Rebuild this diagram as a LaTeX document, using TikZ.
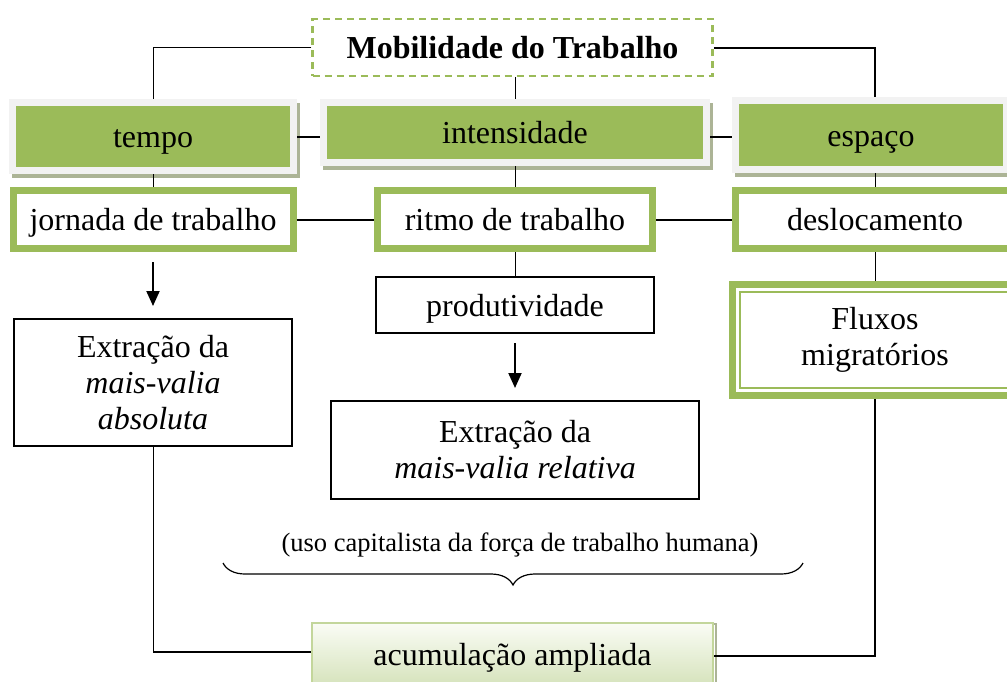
\documentclass[tikz,border=0pt]{standalone}
\usepackage{fontspec}
\setmainfont{Liberation Serif}
\usetikzlibrary{arrows.meta,positioning,calc,decorations.pathreplacing}
\definecolor{MobGreen}{RGB}{155,187,89}
\definecolor{MobFrame}{RGB}{242,242,242}
\definecolor{MobShadow}{RGB}{172,180,150}
\definecolor{MobLight}{RGB}{195,214,155}
\definecolor{MobPale}{RGB}{250,252,245}
\definecolor{MobFill}{RGB}{214,227,188}

\begin{document}
\begin{tikzpicture}[x=1pt, y=-1pt, font=\fontsize{32}{36}\selectfont]
  \tikzset{
    line1/.style={text height=27pt, text depth=5pt},
    title/.style={draw=MobGreen, line width=2.5pt, dash pattern=on 7pt off 5pt, inner sep=0pt, line1},
    cat/.style={fill=MobGreen, draw=MobFrame, line width=7pt, inner sep=0pt, line1,
      preaction={draw=MobShadow, fill=MobShadow, transform canvas={xshift=3pt, yshift=-4pt}}},
    sub/.style={draw=MobGreen, line width=7pt, fill=white, minimum height=58pt, inner sep=0pt, line1},
    b/.style={draw=black, line width=2pt, fill=white, align=center, inner sep=0pt},
    flux/.style={draw=MobGreen, line width=7pt, fill=white, align=center, inner sep=0pt},
    acc/.style={draw=MobLight, line width=2pt, top color=MobPale, bottom color=MobFill, inner sep=0pt, line1,
      preaction={draw=MobShadow, line width=2pt, transform canvas={xshift=3pt, yshift=-1pt}}},
    ln/.style={line width=2pt, draw=black},
    thinln/.style={line width=1pt, draw=black},
    arr/.style={-{Triangle[length=15pt,width=13pt]}, line width=2pt}
  }
  \useasboundingbox (0,0) rectangle (1007,681);
  \clip (0,0) rectangle (1007,681);

  \node[title, minimum width=400pt, minimum height=57pt] (mob) at (512.5,47.5) {\bfseries Mobilidade do Trabalho};

  \node[cat, minimum width=281pt, minimum height=68pt] (tempo) at (153,136.5) {tempo};
  \node[cat, minimum width=383pt, minimum height=60pt] (intens) at (515,132.5) {intensidade};
  \node[cat, minimum width=271pt, minimum height=69pt] (espaco) at (871,135) {espaço};

  \node[sub, minimum width=280pt] (jornada) at (153,219.5) {jornada de trabalho};
  \node[sub, minimum width=275pt] (ritmo) at (515,219.5) {ritmo de trabalho};
  \node[sub, minimum width=279pt] (desloc) at (875,219.5) {deslocamento};

  \node[b, minimum width=278pt, minimum height=127pt] (absol) at (153,382.5) {Extração da\\\textit{mais-valia}\\\textit{absoluta}};
  \node[b, line1, minimum width=278pt, minimum height=56pt, below=24pt of ritmo] (produt) {produtividade};
  \node[b, minimum width=368pt, minimum height=98pt, below=66pt of produt] (relat) {Extração da\\\textit{mais-valia relativa}};

  \node[flux, minimum width=285pt, minimum height=111pt] (fluxos) at (875,340) {Fluxos\\migratórios};
  \draw[MobGreen, line width=2pt] ($(fluxos.south west)+(11pt,11pt)$) rectangle ($(fluxos.north east)+(-11pt,-11pt)$);

  \node[font=\fontsize{26.5}{30}\selectfont] (uso) at (520,545) {(uso capitalista da força de trabalho humana)};
  \draw[line width=1.2pt, decorate, decoration={brace, amplitude=22pt}] (803,563) -- (223,563);

  \node[acc, minimum width=401pt, minimum height=62pt] (acum) at (512.5,654) {acumulação ampliada};

  % ligações
  \draw[thinln] (mob.west) -| (tempo.north);
  \draw[ln] (mob.east) -| (desloc.north |- espaco.north);
  \draw[thinln] (intens.north |- mob.south) -- (intens.north);
  \draw[ln] (tempo.east) -- (tempo.east -| intens.west);
  \draw[ln] (intens.east |- tempo.east) -- (tempo.east -| espaco.west);
  \draw[thinln] (tempo.south) -- (jornada.north);
  \draw[thinln] (intens.south) -- (ritmo.north);
  \draw[thinln] (desloc.north |- espaco.south) -- (desloc.north);
  \draw[ln] (jornada) -- (ritmo);
  \draw[ln] (ritmo) -- (desloc);
  \draw[thinln] (ritmo.south) -- (produt.north);
  \draw[thinln] (desloc.south) -- (fluxos.north);
  \draw[arr, shorten <=10pt, shorten >=12pt] (jornada.south) -- (absol.north);
  \draw[arr, shorten <=9pt, shorten >=12pt] (produt.south) -- (produt.south |- relat.north);
  \coordinate (lft) at (absol.south |- acum.west);
  \draw[thinln] (absol.south) -- ([yshift=2pt]lft);
  \draw[ln] ([yshift=2pt]lft) -- ([yshift=2pt]acum.west);
  \draw[ln] (fluxos.south) |- ([yshift=-2pt]acum.east);
\end{tikzpicture}
\end{document}
